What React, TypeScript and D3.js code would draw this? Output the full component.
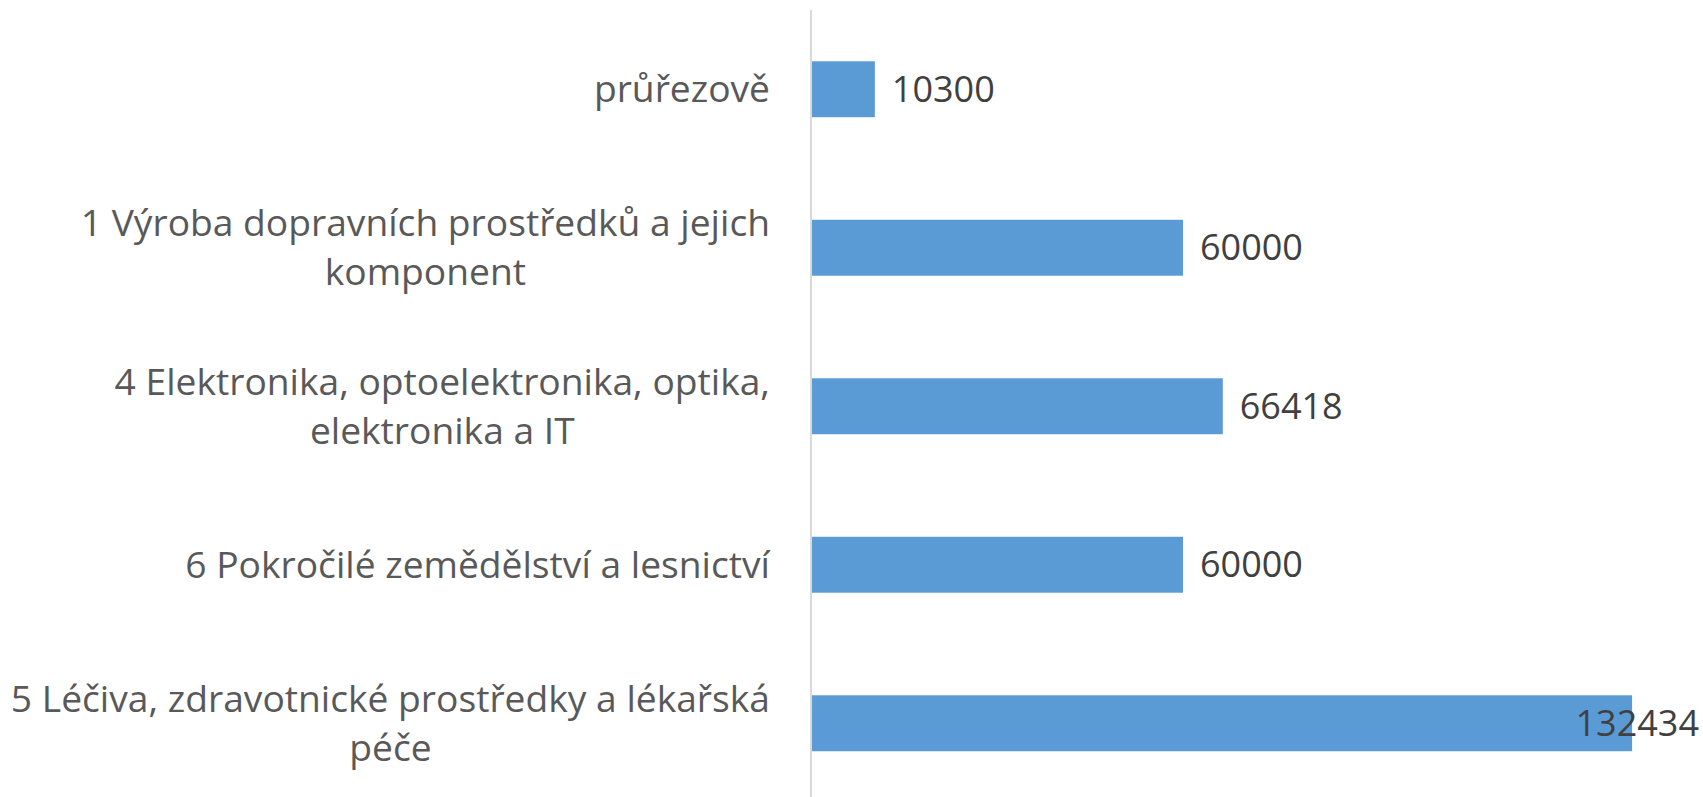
import React, { useEffect, useRef } from "react";
import * as d3 from "d3";

const categories: string[] = [
  "průřezově",
  "1 Výroba dopravních prostředků a jejich\nkomponent",
  "4 Elektronika, optoelektronika, optika,\nelektronika a IT",
  "6 Pokročilé zemědělství a lesnictví",
  "5 Léčiva, zdravotnické prostředky a lékařská\npéče",
];
const values: number[] = [10300, 60000, 66418, 60000, 132434];
const xDomainMax = 140000;

const W = 1703;
const H = 797;

export default function App() {
  const ref = useRef<SVGSVGElement | null>(null);

  useEffect(() => {
    document.body.style.margin = "0";
    const svg = d3.select(ref.current);
    svg.selectAll("*").remove();

    const font = "'Open Sans', sans-serif";
    const fsCat = 37.2;
    const fsVal = 36;
    const lineH = 49;

    const x = d3.scaleLinear().domain([0, xDomainMax]).range([811, 1679]);
    const y = d3
      .scaleBand<string>()
      .domain(categories)
      .range([10, 802.5])
      .paddingInner(0.647)
      .paddingOuter(0.3235);

    // bars
    svg
      .append("g")
      .selectAll("rect")
      .data(categories)
      .join("rect")
      .attr("x", x(0))
      .attr("y", (d) => y(d)!)
      .attr("width", (_d, i) => x(values[i]) - x(0))
      .attr("height", y.bandwidth())
      .attr("fill", "#5b9bd5");

    // axis line
    svg
      .append("line")
      .attr("x1", x(0))
      .attr("x2", x(0))
      .attr("y1", 10)
      .attr("y2", H)
      .attr("stroke", "#d9d9d9")
      .attr("stroke-width", 2);

    // category labels
    const labelRight = 770;
    const cg = svg.append("g");
    categories.forEach((cat) => {
      const lines = cat.split("\n");
      const cy = y(cat)! + y.bandwidth() / 2;
      const texts = lines.map((ln, k) =>
        cg
          .append("text")
          .attr("font-family", font)
          .attr("font-size", fsCat)
          .attr("fill", "#595959")
          .attr("y", cy + (k - (lines.length - 1) / 2) * lineH + 13)
          .text(ln)
      );
      const widths = texts.map((t) => (t.node() as SVGTextElement).getComputedTextLength());
      const bw = Math.max(...widths);
      const center = labelRight - bw / 2;
      texts.forEach((t) => t.attr("x", center).attr("text-anchor", "middle"));
    });

    // value labels
    const vg = svg.append("g");
    categories.forEach((cat, i) => {
      const cy = y(cat)! + y.bandwidth() / 2;
      const t = vg
        .append("text")
        .attr("font-family", font)
        .attr("font-size", fsVal)
        .attr("fill", "#404040")
        .attr("y", cy + 12.5)
        .text(String(values[i]));
      const tw = (t.node() as SVGTextElement).getComputedTextLength();
      let tx = x(values[i]) + 17;
      if (tx + tw > W - 4) tx = W - 4 - tw;
      t.attr("x", tx);
    });
  }, []);

  return (
    <svg
      ref={ref}
      width={W}
      height={H}
      style={{ position: "absolute", left: 0, top: 0, display: "block", background: "#fff" }}
    />
  );
}
